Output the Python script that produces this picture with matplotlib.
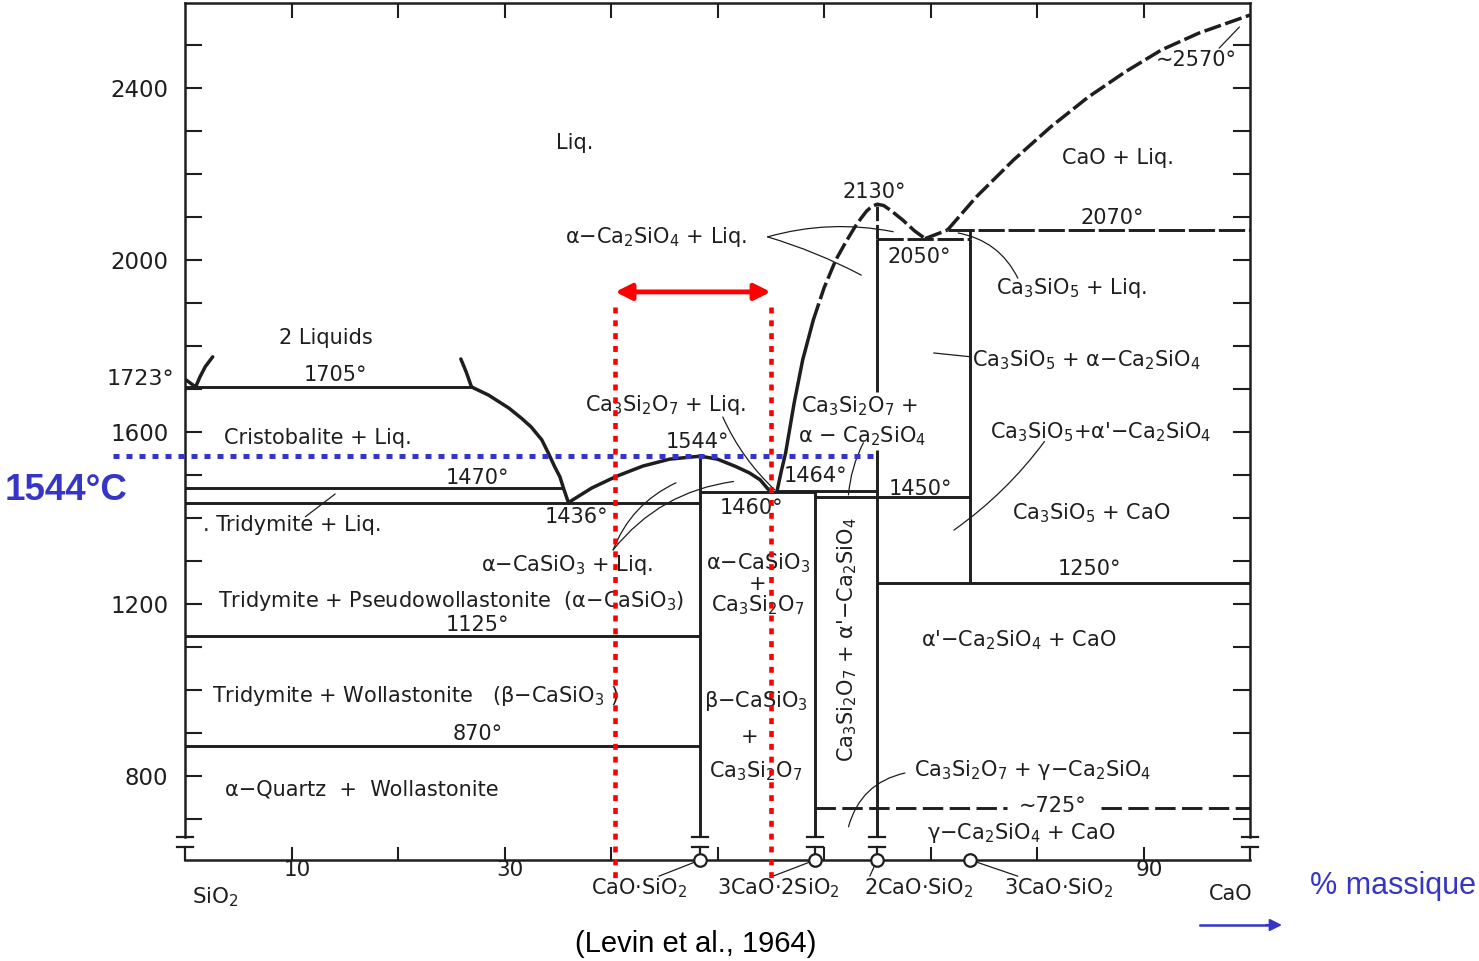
import matplotlib.pyplot as plt

plt.rcParams['font.family'] = 'DejaVu Sans'
plt.rcParams['mathtext.fontset'] = 'dejavusans'

# compounds on the CaO-SiO2 join (wt% CaO)
compound_names = ['CaO·SiO$_2$', '3CaO·2SiO$_2$', '2CaO·SiO$_2$', '3CaO·SiO$_2$']
compound_x = [48.4, 59.2, 65.0, 73.7]

# liquidus branches, wt% CaO vs temperature (degC)
silica_x = [0.0, 0.5, 1.0]
silica_t = [1723, 1714, 1705]
miscib_left_x = [1.0, 1.4, 1.9, 2.6]
miscib_left_t = [1705, 1728, 1752, 1775]
miscib_right_x = [25.9, 26.4, 26.9]
miscib_right_t = [1770, 1740, 1705]
cristob_x = [26.9, 28.5, 30.4, 31.6, 32.5, 33.5, 34.1, 34.7, 35.2, 35.6, 36.0]
cristob_t = [1705, 1686, 1656, 1632, 1612, 1582, 1552, 1520, 1496, 1465, 1436]
wollast_x = [36.0, 38.2, 40.5, 43.0, 45.5, 48.4, 50.0, 51.7, 53.0, 54.0, 55.0]
wollast_t = [1436, 1470, 1497, 1521, 1537, 1544, 1537, 1520, 1505, 1489, 1460]
c2s_x = [55.6, 56.0, 56.4, 57.2, 58.0, 59.0]
c2s_t = [1464, 1510, 1552, 1668, 1768, 1861]
c2s_dome_x = [59.0, 60.0, 61.1, 62.0, 62.9, 63.5, 64.0, 64.5, 65.0, 65.6, 66.3,
              67.4, 68.5, 69.5]
c2s_dome_t = [1861, 1935, 2000, 2040, 2077, 2098, 2114, 2125, 2130, 2127, 2115,
              2093, 2068, 2050]
c3s_x = [69.5, 71.6]
c3s_t = [2050, 2070]
cao_x = [71.6, 74.3, 77.8, 81.3, 84.8, 88.3, 91.7, 95.2, 100.0]
cao_t = [2070, 2147, 2233, 2310, 2379, 2438, 2489, 2528, 2570]

# invariant isotherms: temperature, start, end
iso_t = [1705, 1470, 1436, 1125, 870, 1460, 1464, 1450, 1250]
iso_x0 = [0, 0, 0, 0, 0, 48.4, 55.6, 59.2, 65.0]
iso_x1 = [26.9, 35.5, 48.4, 48.4, 48.4, 59.2, 65.0, 73.7, 100]
dashed_iso_t = [2050, 2070]
dashed_iso_x0 = [65.0, 71.6]
dashed_iso_x1 = [73.7, 100]

t_low = 658      # lower end of the vertical boundaries
t_axis = 605     # composition axis
t_focus = 1544   # congruent melting of CaO.SiO2
x_focus = [40.4, 55.0]

ink = '#1e1e1e'
blue = '#3535c8'
lw = 2.1
dash = (0, (5, 1.3))

fig = plt.figure(figsize=(14.79, 9.61), dpi=100)
ax = fig.add_axes([185 / 1479, 99 / 961, 1065 / 1479, 859 / 961])
ax.set_xlim(0, 100)
ax.set_ylim(600, 2598)

# frame
for s in ['left', 'right', 'top']:
    ax.spines[s].set_linewidth(1.8)
    ax.spines[s].set_color(ink)
ax.spines['bottom'].set_visible(False)
ax.spines['left'].set_bounds(t_low, 2598)
ax.spines['right'].set_bounds(t_low, 2598)
ax.set_xticks(range(10, 100, 10))
ax.xaxis.set_ticks_position('top')
ax.tick_params(axis='x', direction='in', length=11, width=1.5, color=ink,
               labeltop=False, labelbottom=False)
yt = list(range(700, 2600, 100))
ax.set_yticks(yt)
ax.set_yticklabels([str(t) if t in (800, 1200, 1600, 2000, 2400) else '' for t in yt])
ax.tick_params(axis='y', direction='in', length=12, width=1.5, color=ink,
               left=True, right=True, labelsize=16.5, labelcolor=ink, pad=12)
ax.text(-1.0, 1723, '1723°', ha='right', va='center', fontsize=16, color=ink)

# liquidus curves
for xs, ts in [(silica_x, silica_t), (miscib_left_x, miscib_left_t),
               (miscib_right_x, miscib_right_t), (cristob_x, cristob_t),
               (wollast_x, wollast_t), (c2s_x, c2s_t)]:
    ax.plot(xs, ts, color=ink, lw=lw + 0.4, solid_capstyle='round',
            solid_joinstyle='round')
for xs, ts in [(c2s_dome_x, c2s_dome_t), (c3s_x, c3s_t), (cao_x, cao_t)]:
    ax.plot(xs, ts, color=ink, lw=lw + 0.4, linestyle=dash, dash_joinstyle='round')

# isotherms
ax.hlines(iso_t, iso_x0, iso_x1, color=ink, lw=lw)
for t, a, b in zip(dashed_iso_t, dashed_iso_x0, dashed_iso_x1):
    ax.plot([a, b], [t, t], color=ink, lw=lw, linestyle=(0, (9, 1.3)))
ax.plot([59.2, 77.2], [725, 725], color=ink, lw=lw, linestyle=(0, (7, 2.2)))
ax.plot([86.0, 100], [725, 725], color=ink, lw=lw, linestyle=(0, (7, 2.2)))

# compound verticals
ax.vlines([48.4, 59.2], [1544, 1464], t_low, color=ink, lw=lw)
ax.vlines([65.0, 65.0], [t_low, 1693], [1558, 2050], color=ink, lw=lw)
ax.plot([65.0, 65.0], [2050, 2130], color=ink, lw=lw, linestyle=dash)
ax.vlines(73.7, 1250, 2050, color=ink, lw=lw)
ax.plot([73.7, 73.7], [2050, 2070], color=ink, lw=lw, linestyle=dash)

# end caps and composition axis
ends = [0, 48.4, 59.2, 65.0, 100]
for x in ends:
    ax.plot([x - 0.75, x + 0.75], [t_low, t_low], color=ink, lw=1.6, clip_on=False)
    ax.plot([x - 0.75, x + 0.75], [635, 635], color=ink, lw=1.6, clip_on=False)
    ax.plot([x, x], [t_axis, 635], color=ink, lw=1.6, clip_on=False)
ax.plot([0, 100], [t_axis, t_axis], color=ink, lw=1.8, clip_on=False)
ax.vlines(range(10, 100, 10), t_axis, 635, color=ink, lw=1.5)
ax.plot(compound_x, [t_axis] * 4, 'o', ms=9, mfc='white', mec=ink, mew=1.6,
        clip_on=False, zorder=5)
for v in (10, 30, 90):
    ax.text(v + 0.5, 582, str(v), ha='center', va='center', fontsize=15.5, color=ink)
ax.text(2.9, 519, 'SiO$_2$', ha='center', va='center', fontsize=15.5, color=ink)
ax.text(98.2, 526, 'CaO', ha='center', va='center', fontsize=15, color=ink)
label_x = [42.6, 55.7, 68.9, 82.0]
leader_x = [44.5, 55.2, 64.3, 78.2]
for name, lx, cx, px in zip(compound_names, label_x, compound_x, leader_x):
    ax.text(lx, 540, name, ha='center', va='center', fontsize=15, color=ink)
    ax.annotate('', xy=(cx, t_axis), xytext=(px, 567), annotation_clip=False,
                arrowprops=dict(arrowstyle='-', lw=0.9, color=ink,
                                shrinkA=0, shrinkB=4))

# phase field labels
fs = 15
labels = [
    (36.6, 2272, 'Liq.', 'center'),
    (44.2, 2054, 'α−Ca$_2$SiO$_4$ + Liq.', 'center'),
    (64.7, 2158, '2130°', 'center'),
    (87.6, 2238, 'CaO + Liq.', 'center'),
    (95.0, 2465, '∼2570°', 'center'),
    (87.1, 2098, '2070°', 'center'),
    (68.9, 2007, '2050°', 'center'),
    (83.2, 1935, 'Ca$_3$SiO$_5$ + Liq.', 'center'),
    (13.2, 1819, '2 Liquids', 'center'),
    (14.1, 1733, '1705°', 'center'),
    (12.5, 1586, 'Cristobalite + Liq.', 'center'),
    (45.1, 1663, 'Ca$_3$Si$_2$O$_7$ + Liq.', 'center'),
    (63.3, 1661, 'Ca$_3$Si$_2$O$_7$ +', 'center'),
    (63.6, 1591, 'α − Ca$_2$SiO$_4$', 'center'),
    (84.6, 1768, 'Ca$_3$SiO$_5$ + α−Ca$_2$SiO$_4$', 'center'),
    (86.0, 1600, "Ca$_3$SiO$_5$+α'−Ca$_2$SiO$_4$", 'center'),
    (48.1, 1577, '1544°', 'center'),
    (27.5, 1493, '1470°', 'center'),
    (59.2, 1498, '1464°', 'center'),
    (69.1, 1468, '1450°', 'center'),
    (36.8, 1403, '1436°', 'center'),
    (53.2, 1424, '1460°', 'center'),
    (1.7, 1384, '. Tridymite + Liq.', 'left'),
    (85.1, 1412, 'Ca$_3$SiO$_5$ + CaO', 'center'),
    (35.9, 1291, 'α−CaSiO$_3$ + Liq.', 'center'),
    (84.9, 1282, '1250°', 'center'),
    (3.1, 1207, 'Tridymite + Pseudowollastonite  (α−CaSiO$_3$)', 'left'),
    (27.5, 1152, '1125°', 'center'),
    (78.3, 1117, "α'−Ca$_2$SiO$_4$ + CaO", 'center'),
    (2.5, 986, 'Tridymite + Wollastonite   (β−CaSiO$_3$ )', 'left'),
    (27.5, 898, '870°', 'center'),
    (53.6, 975, 'β−CaSiO$_3$', 'center'),
    (53.0, 891, '+', 'center'),
    (53.6, 812, 'Ca$_3$Si$_2$O$_7$', 'center'),
    (79.6, 814, 'Ca$_3$Si$_2$O$_7$ + γ−Ca$_2$SiO$_4$', 'center'),
    (81.5, 731, '∼725°', 'center'),
    (3.8, 768, 'α−Quartz  +  Wollastonite', 'left'),
    (78.5, 668, 'γ−Ca$_2$SiO$_4$ + CaO', 'center'),
]
for x, t, s, ha in labels:
    ax.text(x, t, s, ha=ha, va='center', fontsize=fs, color=ink)
ax.text(53.8, 1247, 'α−CaSiO$_3$\n+\nCa$_3$Si$_2$O$_7$', ha='center', va='center',
        fontsize=fs, color=ink, linespacing=0.95, multialignment='center')
ax.text(62.2, 1117, "Ca$_3$Si$_2$O$_7$ + α'−Ca$_2$SiO$_4$", rotation=90,
        ha='center', va='center', fontsize=fs, color=ink)

# leader lines: start, end, curvature
leaders = [
    ((54.7, 2054), (66.5, 2066), -0.12),
    ((54.7, 2054), (63.5, 1965), -0.05),
    ((78.2, 1958), (72.6, 2063), 0.25),
    ((97.1, 2493), (99.0, 2542), 0.0),
    ((14.1, 1456), (11.3, 1403), 0.0),
    ((50.5, 1635), (55.4, 1465), 0.1),
    ((40.2, 1326), (46.1, 1482), -0.2),
    ((40.2, 1326), (51.5, 1485), -0.2),
    ((63.7, 1575), (62.3, 1454), 0.1),
    ((73.8, 1775), (70.3, 1784), 0.0),
    ((80.7, 1578), (72.2, 1372), -0.08),
    ((67.6, 807), (62.3, 682), 0.3),
]
for start, end, rad in leaders:
    ax.annotate('', xy=end, xytext=start,
                arrowprops=dict(arrowstyle='-', lw=0.9, color=ink, shrinkA=0, shrinkB=0,
                                connectionstyle=f'arc3,rad={rad}'))

# highlighted composition window at 1544 degC
ax.plot([-6.8, 65.0], [t_focus, t_focus], color=blue, lw=3.6,
        linestyle=(0, (1.2, 1.4)), clip_on=False, zorder=6)
for x in x_focus:
    ax.plot([x, x], [1891, 558], color='red', lw=3.3,
            linestyle=(0, (1.3, 1.5)), clip_on=False, zorder=6)
ax.annotate('', xy=(x_focus[1], 1926), xytext=(x_focus[0], 1926),
            arrowprops=dict(arrowstyle='<|-|>', color='red', lw=3.5,
                            mutation_scale=24, shrinkA=0, shrinkB=0), zorder=7)

fig.text(66 / 1479, 1 - 490 / 961, '1544°C', color=blue, fontsize=26.5,
         fontweight='bold', family='Liberation Sans', ha='center', va='center')
fig.text(1393 / 1479, 1 - 886 / 961, '% massique', color=blue, fontsize=22,
         family='Liberation Sans', ha='center', va='center')
fig.text(696 / 1479, 1 - 944 / 961, '(Levin et al., 1964)', color='black',
         fontsize=21, family='Liberation Sans', ha='center', va='center')
fig.add_artist(plt.Line2D([1200 / 1479, 1272 / 1479], [1 - 925 / 961] * 2,
                          color=blue, lw=1.8))
ax.annotate('', xy=(1282 / 1479, 1 - 925 / 961), xytext=(1266 / 1479, 1 - 925 / 961),
            xycoords='figure fraction',
            arrowprops=dict(arrowstyle='-|>', color=blue, lw=1.5, mutation_scale=18,
                            shrinkA=0, shrinkB=0))

fig.savefig('out.png', dpi=100, facecolor='white')
